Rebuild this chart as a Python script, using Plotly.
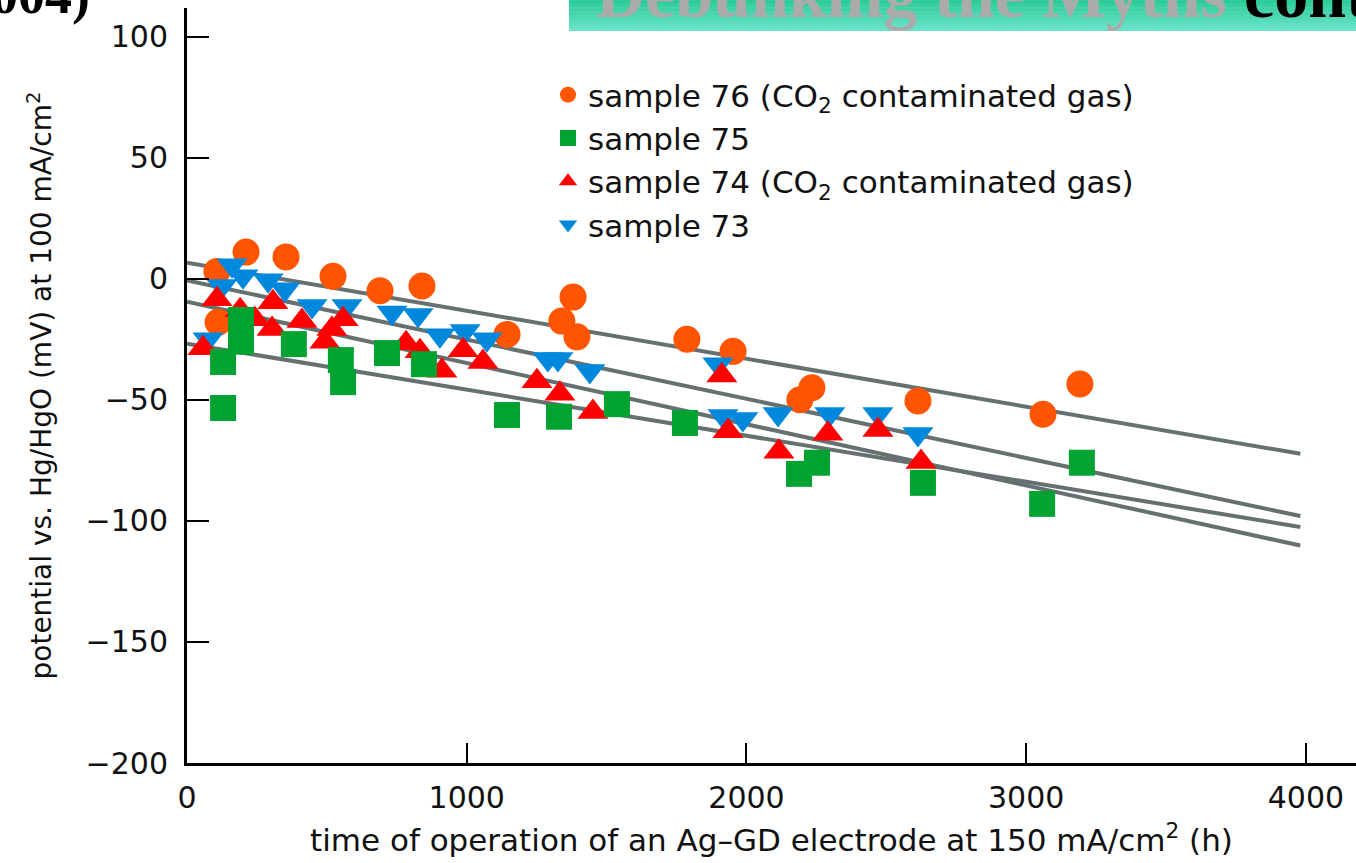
import plotly.graph_objects as go

# ---------------- data ----------------
s76_t = [107, 111, 211, 354, 522, 690, 840, 1144, 1340, 1380, 1394, 1787, 1952, 2191, 2234, 2613, 3060, 3192]
s76_v = [3, -18, 11, 9, 1, -5, -3, -23, -17.5, -7.6, -24, -25, -30, -50, -45, -50.5, -56, -43.5]

s75_t = [129, 129, 193, 193, 382, 550, 558, 715, 847, 1144, 1330, 1537, 1780, 2188, 2252, 2631, 3057, 3199]
s75_v = [-34.4, -53.4, -17, -26, -27, -33.6, -42.7, -30.7, -35.3, -56.3, -57, -51.8, -59.6, -80.6, -76, -84.3, -93, -76]

s74_t = [57, 107, 190, 243, 304, 307, 411, 493, 518, 558, 783, 833, 911, 987, 1058, 1251, 1333, 1451,
         1912, 1934, 2116, 2291, 2470, 2624]
s74_v = [-28.7, -8.5, -13, -16.7, -20.8, -9.7, -17.5, -26, -20.8, -16.7, -26.6, -30, -38, -29.5, -34.4, -42.3,
         -47.5, -55, -40, -63, -71.5, -64, -62.5, -75.7]

s73_t = [75, 125, 161, 200, 290, 350, 447, 572, 733, 826, 904, 994, 1072, 1290, 1326, 1440,
         1898, 1916, 1987, 2113, 2298, 2470, 2613]
s73_v = [-25, -3, 5.6, 1, -0.6, -4.3, -11.3, -11.3, -14, -15, -23.3, -21.6, -25, -33.2, -33.2, -38.1,
         -35.3, -56.7, -57.9, -55.9, -55.9, -55.9, -64.1]

fit_t = [0, 3980]
fit_start = [6.6, -0.7, -26.8, -9.5]
fit_end = [-72.3, -98.0, -102.5, -110.2]

x_ticks = [0, 1000, 2000, 3000, 4000]
y_ticks = [-200, -150, -100, -50, 0, 50, 100]

names = ["sample 76 (CO<sub>2</sub> contaminated gas)", "sample 75",
         "sample 74 (CO<sub>2</sub> contaminated gas)", "sample 73"]

# ---------------- figure ----------------
fig = go.Figure()

for a, b in zip(fit_start, fit_end):
    fig.add_trace(go.Scatter(x=fit_t, y=[a, b], mode="lines",
                             line=dict(color="#667070", width=4),
                             showlegend=False, hoverinfo="skip"))

MS = 27
fig.add_trace(go.Scatter(x=s76_t, y=s76_v, mode="markers", name=names[0], legendrank=1,
                         legendgroup="g1",
                         marker=dict(symbol="circle", size=MS, color="#FF5500", line=dict(width=0))))
fig.add_trace(go.Scatter(x=s73_t, y=s73_v, mode="markers", name=names[3], legendrank=4,
                         legendgroup="g4",
                         marker=dict(symbol="triangle-down", size=MS, color="#0088DD", line=dict(width=0))))
fig.add_trace(go.Scatter(x=s74_t, y=s74_v, mode="markers", name=names[2], legendrank=3,
                         legendgroup="g3",
                         marker=dict(symbol="triangle-up", size=MS, color="#FF0000", line=dict(width=0))))
fig.add_trace(go.Scatter(x=s75_t, y=s75_v, mode="markers", name=names[1], legendrank=2,
                         legendgroup="g2",
                         marker=dict(symbol="square", size=MS - 1, color="#00A332", line=dict(width=0))))

W, H = 1356, 863
ML, MR, MT, MB = 187, 0, 8, 100
PW, PH = W - ML - MR, H - MT - MB


def px_x(px):
    return (px - ML) / PW


def px_y(py):
    return 1 - (py - MT) / PH


tick_font = dict(family="DejaVu Sans", size=30, color="#111111")

fig.update_xaxes(range=[0, 4179], tickvals=x_ticks, ticks="inside", ticklen=20, tickwidth=2,
                 tickcolor="black", showline=True, linewidth=3, linecolor="black",
                 showgrid=False, zeroline=False, tickfont=tick_font, ticklabelstandoff=6,
                 title=dict(text="time of operation of an Ag\u2013GD electrode at 150 mA/cm<sup>2</sup> (h)",
                            font=dict(family="DejaVu Sans", size=31, color="#111111"),
                            standoff=16))
fig.update_yaxes(range=[-200, 111.8], tickvals=y_ticks, ticks="inside", ticklen=22, tickwidth=2,
                 tickcolor="black", showline=True, linewidth=3, linecolor="black",
                 showgrid=False, zeroline=False, tickfont=tick_font, ticklabelstandoff=10,
                 title=dict(text="potential vs. Hg/HgO (mV) at 100 mA/cm<sup>2</sup>",
                            font=dict(family="DejaVu Sans", size=28, color="#111111"),
                            standoff=26))

shapes = []
# teal banner with a vertical gradient (top-right, cropped)
top_c = (46, 204, 152)
bot_c = (104, 226, 200)
n = 8
y0, y1 = 0, 31
for i in range(n):
    f = i / (n - 1)
    c = tuple(int(round(top_c[k] + (bot_c[k] - top_c[k]) * f)) for k in range(3))
    ya = y0 + (y1 - y0) * i / n
    yb = y0 + (y1 - y0) * (i + 1) / n
    shapes.append(dict(type="rect", xref="paper", yref="paper",
                       x0=px_x(569), x1=px_x(1360), y0=px_y(yb), y1=px_y(ya - 0.5),
                       fillcolor="rgb(%d,%d,%d)" % c, line=dict(width=0), layer="below"))

annotations = [
    dict(text="<b>(2004)</b>", xref="paper", yref="paper", x=px_x(92), y=px_y(-5),
         xanchor="right", yanchor="middle", showarrow=False,
         font=dict(family="Liberation Serif", size=54, color="black")),
    dict(text="<b>Debunking the Myths <span style='color:black'>contamination</span></b>",
         xref="paper", yref="paper", x=px_x(594), y=px_y(-6), xanchor="left", yanchor="middle",
         showarrow=False, font=dict(family="Liberation Serif", size=68, color="#ABABAB")),
]

fig.update_layout(
    width=W, height=H,
    margin=dict(l=ML, r=MR, t=MT, b=MB, pad=0),
    paper_bgcolor="white", plot_bgcolor="white",
    showlegend=True,
    legend=dict(x=px_x(548), y=px_y(68), xanchor="left", yanchor="top",
                bgcolor="rgba(0,0,0,0)", borderwidth=0, traceorder="grouped",
                tracegroupgap=0,
                font=dict(family="DejaVu Sans", size=31, color="#111111")),
    shapes=shapes,
    annotations=annotations,
)

fig.write_html("out.html")
